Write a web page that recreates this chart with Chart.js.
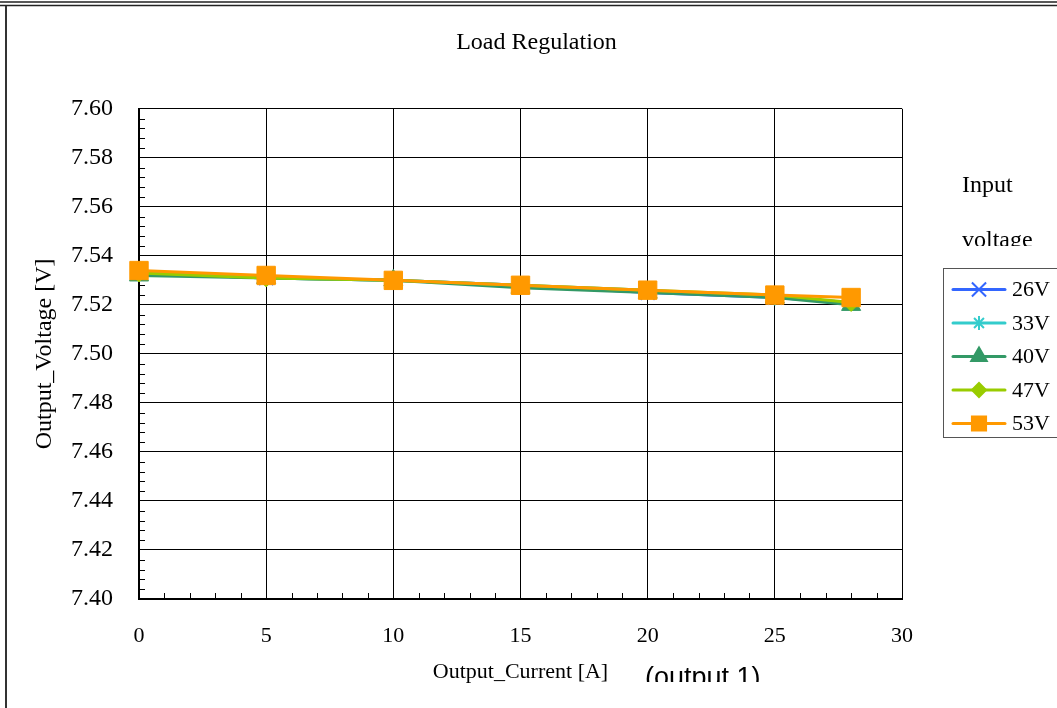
<!DOCTYPE html>
<html>
<head>
<meta charset="utf-8">
<title>Load Regulation</title>
<script src="https://cdn.jsdelivr.net/npm/chart.js@4.4.1/dist/chart.umd.min.js"></script>
<style>
    html, body { margin: 0; padding: 0; background: #fff; }
    #wrap { width: 1057px; height: 708px; }
</style>
</head>
<body>
<div id="wrap"><canvas id="load-chart" width="1057" height="708"></canvas></div>
<script>
// Output current (A) at each measuring point
const currents = [0, 5, 10, 15, 20, 25, 28];

// Output voltage (V) per input voltage
const seriesNames = ['26V', '33V', '40V', '47V', '53V'];
const v26 = [7.533, 7.531, 7.530, 7.528, 7.525, 7.523, 7.521];
const v33 = [7.533, 7.531, 7.530, 7.528, 7.526, 7.523, 7.521];
const v40 = [7.532, 7.531, 7.530, 7.527, 7.525, 7.523, 7.520];
const v47 = [7.533, 7.531, 7.530, 7.528, 7.526, 7.524, 7.521];
const v53 = [7.534, 7.532, 7.530, 7.528, 7.526, 7.524, 7.523];
const seriesValues = [v26, v33, v40, v47, v53];

// axis ranges
const xTicks = [0, 5, 10, 15, 20, 25, 30];
const yTicks = [7.40, 7.42, 7.44, 7.46, 7.48, 7.50, 7.52, 7.54, 7.56, 7.58, 7.60];

const colors = ['#3366ff', '#33cccc', '#339966', '#99cc00', '#ff9900'];
const styles = ['crossRot', 'star', 'triangle', 'rectRot', 'rect'];
const plotRadius = [10, 8, 11, 9, 13];
const legendRadius = [10, 7, 9, 7, 10];

const serif = "'Liberation Serif', 'Times New Roman', serif";

const datasets = seriesNames.map((name, i) => ({
    label: name,
    data: currents.map((c, j) => ({ x: c, y: seriesValues[i][j] })),
    borderColor: colors[i],
    backgroundColor: colors[i],
    pointBackgroundColor: colors[i],
    pointBorderColor: colors[i],
    pointStyle: styles[i],
    pointRadius: plotRadius[i],
    pointHoverRadius: plotRadius[i],
    pointBorderWidth: (styles[i] === 'crossRot' || styles[i] === 'star') ? 2 : 1,
    borderWidth: 3,
    tension: 0,
    clip: false,
    order: seriesNames.length - i // last series drawn on top
}));

// frame, minor ticks, legend box and loose texts
const decorPlugin = {
    id: 'decor',
    beforeDraw(chart) {
        const ctx = chart.ctx;
        ctx.save();
        ctx.fillStyle = '#fff';
        ctx.fillRect(0, 0, chart.width, chart.height);
        ctx.strokeStyle = '#222';
        ctx.lineWidth = 1.5;
        ctx.beginPath();
        ctx.moveTo(0, 2); ctx.lineTo(chart.width, 2);
        ctx.moveTo(0, 5.5); ctx.lineTo(chart.width, 5.5);
        ctx.stroke();
        ctx.lineWidth = 2;
        ctx.strokeStyle = '#333';
        ctx.beginPath();
        ctx.moveTo(6, 6); ctx.lineTo(6, chart.height);
        ctx.stroke();
        ctx.restore();
    },
    beforeDatasetsDraw(chart) {
        const ctx = chart.ctx;
        const xs = chart.scales.x, ys = chart.scales.y;
        const area = chart.chartArea;
        ctx.save();
        ctx.strokeStyle = '#000';
        ctx.lineWidth = 1;
        ctx.beginPath();
        for (let v = 1; v < 30; v++) {
            if (v % 5 === 0) continue;
            const px = Math.round(xs.getPixelForValue(v)) + 0.5;
            ctx.moveTo(px, area.bottom);
            ctx.lineTo(px, area.bottom - 6);
        }
        for (let k = 1; k < 50; k++) {
            if (k % 5 === 0) continue;
            const py = Math.round(ys.getPixelForValue(7.40 + k * 0.004)) + 0.5;
            ctx.moveTo(area.left, py);
            ctx.lineTo(area.left + 6, py);
        }
        ctx.stroke();
        ctx.restore();
    },
    afterDraw(chart) {
        const ctx = chart.ctx;
        ctx.save();

        // legend title, partly cut off like the original text box
        ctx.save();
        ctx.beginPath();
        ctx.rect(940, 150, 117, 96);
        ctx.clip();
        ctx.fillStyle = '#000';
        ctx.font = '24px ' + serif;
        ctx.textBaseline = 'alphabetic';
        ctx.textAlign = 'left';
        ctx.fillText('Input', 962, 192);
        ctx.fillText('voltage', 962, 247);
        ctx.restore();

        // legend box
        ctx.strokeStyle = '#555';
        ctx.lineWidth = 1;
        ctx.strokeRect(943.5, 268.5, 140, 169);
        chart.data.datasets.forEach((ds, i) => {
            const y = 289.5 + i * 33.5;
            ctx.strokeStyle = ds.borderColor;
            ctx.lineWidth = 3;
            ctx.lineCap = 'round';
            ctx.beginPath();
            ctx.moveTo(953, y);
            ctx.lineTo(1005, y);
            ctx.stroke();
            ctx.fillStyle = ds.borderColor;
            ctx.lineWidth = 2;
            ctx.lineCap = 'butt';
            Chart.helpers.drawPoint(ctx, {
                pointStyle: ds.pointStyle,
                rotation: 0,
                radius: legendRadius[i],
                borderWidth: 2
            }, 979, y);
            ctx.fillStyle = '#000';
            ctx.font = '22px ' + serif;
            ctx.textBaseline = 'middle';
            ctx.textAlign = 'left';
            ctx.fillText(ds.label, 1012, y + 1);
        });

        // "(output 1)" note, bottom cut off
        ctx.beginPath();
        ctx.rect(600, 640, 250, 42);
        ctx.clip();
        ctx.fillStyle = '#000';
        ctx.font = "27px 'Liberation Sans', Arial, sans-serif";
        ctx.textBaseline = 'alphabetic';
        ctx.textAlign = 'left';
        ctx.fillText('(output 1)', 645, 686);
        ctx.restore();
    }
};

new Chart(document.getElementById('load-chart'), {
    type: 'line',
    data: { datasets: datasets },
    options: {
        responsive: false,
        animation: false,
        events: [],
        layout: { padding: { left: 16, right: 0, top: 0, bottom: 0 } },
        plugins: {
            legend: { display: false },
            tooltip: { enabled: false },
            title: {
                display: true,
                text: 'Load Regulation',
                color: '#000',
                font: { family: serif, size: 24, weight: 'normal' },
                padding: { top: 28, bottom: 52 }
            }
        },
        scales: {
            x: {
                type: 'linear',
                min: xTicks[0],
                max: xTicks[xTicks.length - 1],
                afterBuildTicks: s => { s.ticks = xTicks.map(v => ({ value: v })); },
                afterFit: s => { s.height = 109; },
                grid: { color: '#000', lineWidth: 1, drawTicks: false },
                border: { display: true, color: '#000', width: 2 },
                ticks: {
                    color: '#000',
                    padding: 24,
                    font: { family: serif, size: 22 }
                },
                title: {
                    display: true,
                    text: 'Output_Current [A]',
                    color: '#000',
                    font: { family: serif, size: 22 },
                    padding: { top: 0, bottom: 23 }
                }
            },
            y: {
                type: 'linear',
                position: 'left',
                min: yTicks[0],
                max: yTicks[yTicks.length - 1],
                afterBuildTicks: s => { s.ticks = yTicks.map(v => ({ value: v })); },
                afterFit: s => { s.width = 123; },
                grid: { color: '#000', lineWidth: 1, drawTicks: false },
                border: { display: true, color: '#000', width: 2 },
                ticks: {
                    color: '#000',
                    padding: 26,
                    font: { family: serif, size: 24 },
                    callback: v => Number(v).toFixed(2)
                },
                title: {
                    display: true,
                    text: 'Output_Voltage [V]',
                    color: '#000',
                    font: { family: serif, size: 24 },
                    padding: { top: 14, bottom: 0 }
                }
            },
            yRight: {
                type: 'linear',
                position: 'right',
                display: true,
                afterFit: s => { s.width = 155; },
                grid: { display: false, drawTicks: false },
                border: { display: false },
                ticks: { display: false }
            }
        }
    },
    plugins: [decorPlugin]
});
</script>
</body>
</html>
